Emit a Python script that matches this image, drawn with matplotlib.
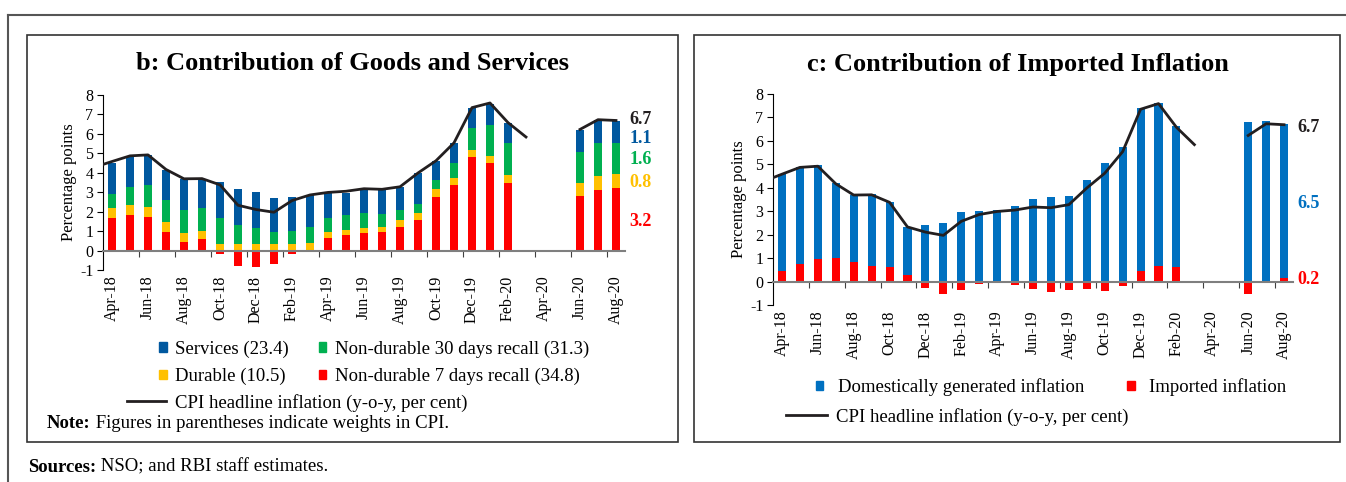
import numpy as np
import matplotlib
matplotlib.use("Agg")
import matplotlib.pyplot as plt
from matplotlib.patches import Rectangle, Patch
from matplotlib.lines import Line2D

plt.rcParams['font.family'] = ['Liberation Serif', 'DejaVu Serif']
plt.rcParams['axes.unicode_minus'] = False

nan = np.nan

# Month labels, Apr-18 .. Aug-20
months = ['Apr-18', 'May-18', 'Jun-18', 'Jul-18', 'Aug-18', 'Sep-18', 'Oct-18', 'Nov-18',
          'Dec-18', 'Jan-19', 'Feb-19', 'Mar-19', 'Apr-19', 'May-19', 'Jun-19', 'Jul-19',
          'Aug-19', 'Sep-19', 'Oct-19', 'Nov-19', 'Dec-19', 'Jan-20', 'Feb-20', 'Mar-20',
          'Apr-20', 'May-20', 'Jun-20', 'Jul-20', 'Aug-20']

# CPI headline inflation, Mar-18 .. Aug-20 (first point sits just left of the axis)
cpi = [4.28, 4.58, 4.87, 4.92, 4.17, 3.69, 3.70, 3.38, 2.33, 2.11, 1.97, 2.57, 2.86, 2.99,
       3.05, 3.18, 3.15, 3.28, 3.99, 4.62, 5.54, 7.35, 7.59, 6.58, 5.84, nan, nan, 6.23,
       6.73, 6.69]

# Panel b: contributions (percentage points)
nd7 = [1.70, 1.85, 1.75, 0.95, 0.45, 0.60, -0.20, -0.80, -0.85, -0.70, -0.20, 0.05, 0.65,
       0.80, 0.91, 0.96, 1.22, 1.58, 2.76, 3.37, 4.81, 4.50, 3.48, nan, nan, nan, 2.81,
       3.12, 3.20]
durable = [0.50, 0.50, 0.50, 0.50, 0.45, 0.40, 0.35, 0.35, 0.35, 0.35, 0.35, 0.35, 0.30,
           0.26, 0.25, 0.26, 0.36, 0.35, 0.41, 0.36, 0.36, 0.36, 0.41, nan, nan, nan, 0.67,
           0.72, 0.75]
nd30 = [0.70, 0.90, 1.10, 1.15, 1.20, 1.20, 1.30, 0.95, 0.80, 0.60, 0.65, 0.80, 0.75, 0.77,
        0.79, 0.66, 0.51, 0.47, 0.46, 0.77, 1.13, 1.60, 1.64, nan, nan, nan, 1.59, 1.69,
        1.60]
services = [1.60, 1.60, 1.55, 1.55, 1.60, 1.50, 1.90, 1.87, 1.85, 1.73, 1.75, 1.65, 1.30,
            1.15, 1.17, 1.24, 1.16, 1.57, 0.97, 1.03, 1.03, 1.07, 1.03, nan, nan, nan, 1.13,
            1.18, 1.12]
b_labels = ['6.7', '1.1', '1.6', '0.8', '3.2']
b_label_y = [6.75, 5.77, 4.66, 3.49, 1.49]

# Panel c: contributions (percentage points)
imported = [0.43, 0.74, 0.97, 1.00, 0.85, 0.68, 0.60, 0.26, -0.27, -0.53, -0.38, -0.10,
            -0.02, -0.13, -0.33, -0.44, -0.36, -0.31, -0.41, -0.17, 0.43, 0.68, 0.60, nan,
            nan, nan, -0.54, -0.06, 0.17]
domestic = [4.14, 4.13, 4.00, 3.19, 2.84, 3.04, 2.79, 2.07, 2.41, 2.51, 2.97, 3.01, 3.05,
            3.22, 3.54, 3.61, 3.65, 4.35, 5.06, 5.74, 6.97, 6.95, 6.03, nan, nan, nan, 6.80,
            6.85, 6.56]
c_labels = ['6.7', '6.5', '0.2']
c_label_y = [6.59, 3.35, 0.07]

C_SERV = '#00589F'
C_DOM = '#0070C0'
C_ND30 = '#00B050'
C_DUR = '#FFC000'
C_RED = '#FF0000'
C_LINE = '#231F20'

FS_LEG = 13.5

W, H = 1346, 482
fig = plt.figure(figsize=(W / 100, H / 100), dpi=100)


def fx(px):
    return px / W


def fy(py):
    return 1 - py / H


def setup_axis(ax):
    n = len(months)
    ax.set_xlim(-0.5, n - 0.5)
    ax.set_ylim(-1, 8)
    ax.set_yticks(range(-1, 9))
    ax.tick_params(axis='y', direction='out', length=4, width=0.8, labelsize=11.5, pad=3)
    for s in ['top', 'right']:
        ax.spines[s].set_visible(False)
    ax.spines['left'].set_linewidth(0.8)
    ax.spines['bottom'].set_position(('data', 0))
    ax.spines['bottom'].set_color('#7F7F7F')
    ax.spines['bottom'].set_linewidth(1.5)
    ax.set_xticks(np.arange(1.5, n - 1, 2))
    ax.set_xticklabels([])
    ax.tick_params(axis='x', direction='out', length=4, width=0.8, color='#404040')
    sec = ax.secondary_xaxis(0.0)
    sec.set_xticks(np.arange(0, n, 2))
    sec.set_xticklabels(months[::2], rotation=90, fontsize=11.5)
    sec.tick_params(length=0, pad=4)
    sec.spines['bottom'].set_visible(False)
    ax.set_ylabel('Percentage points', fontsize=12, labelpad=2)


x = np.arange(len(months))
xl = np.arange(-1, len(months))
bw = 0.45

# ---------------- panel b ----------------
axb = fig.add_axes([fx(103), fy(270), fx(625 - 103), (270 - 95) / H])
red = np.array(nd7)
dur = np.array(durable)
n30 = np.array(nd30)
srv = np.array(services)
base = np.where(red > 0, red, 0)
axb.bar(x, red, bw, color=C_RED, zorder=2)
axb.bar(x, dur, bw, bottom=base, color=C_DUR, zorder=2)
axb.bar(x, n30, bw, bottom=base + dur, color=C_ND30, zorder=2)
axb.bar(x, srv, bw, bottom=base + dur + n30, color=C_SERV, zorder=2)
axb.plot(xl, cpi, color=C_LINE, lw=2, zorder=3)
setup_axis(axb)
for txt, yy, col in zip(b_labels, b_label_y, [C_LINE, C_SERV, C_ND30, C_DUR, C_RED]):
    axb.text(28.75, yy, txt, color=col, fontsize=13, fontweight='bold',
             ha='left', va='center', clip_on=False)

fig.text(fx(352), fy(64), 'b: Contribution of Goods and Services', ha='center',
         va='center', fontsize=19, fontweight='bold')

hb = [Patch(color=C_SERV), Patch(color=C_DUR), Patch(color=C_ND30), Patch(color=C_RED)]
lb = ['Services (23.4)', 'Durable (10.5)', 'Non-durable 30 days recall (31.3)',
      'Non-durable 7 days recall (34.8)']
leg1 = axb.legend(hb, lb, ncol=2, loc='center left', bbox_to_anchor=(fx(159), fy(363)),
                  bbox_transform=fig.transFigure, frameon=False, fontsize=FS_LEG,
                  handlelength=0.4, handleheight=0.4, handletextpad=0.45,
                  columnspacing=1.6, labelspacing=0.55, borderpad=0, borderaxespad=0)
axb.add_artist(leg1)
axb.legend([Line2D([], [], color=C_LINE, lw=2)], ['CPI headline inflation (y-o-y, per cent)'],
           loc='center left', bbox_to_anchor=(fx(127), fy(403)),
           bbox_transform=fig.transFigure, frameon=False, fontsize=FS_LEG,
           handlelength=2.1, handletextpad=0.45, borderpad=0, borderaxespad=0)

t = fig.text(fx(47), fy(424), 'Note:', fontsize=FS_LEG, fontweight='bold', va='center')
plt.annotate(' Figures in parentheses indicate weights in CPI.', xy=(1, 0.5),
             xycoords=t, va='center', fontsize=FS_LEG)

# ---------------- panel c ----------------
axc = fig.add_axes([fx(773), fy(305), fx(1293 - 773), (305 - 94) / H])
imp = np.array(imported)
dom = np.array(domestic)
axc.bar(x, imp, bw, color=C_RED, zorder=2)
axc.bar(x, dom, bw, bottom=np.where(imp > 0, imp, 0), color=C_DOM, zorder=2)
axc.plot(xl, cpi, color=C_LINE, lw=2, zorder=3)
setup_axis(axc)
for txt, yy, col in zip(c_labels, c_label_y, [C_LINE, C_DOM, C_RED]):
    axc.text(28.75, yy, txt, color=col, fontsize=13, fontweight='bold',
             ha='left', va='center', clip_on=False)

fig.text(fx(1018), fy(64), 'c: Contribution of Imported Inflation', ha='center',
         va='center', fontsize=19, fontweight='bold')

leg2 = axc.legend([Patch(color=C_DOM), Patch(color=C_RED)],
                  ['Domestically generated inflation', 'Imported inflation'], ncol=2,
                  loc='center left', bbox_to_anchor=(fx(816), fy(387)),
                  bbox_transform=fig.transFigure, frameon=False, fontsize=FS_LEG,
                  handlelength=0.4, handleheight=0.4, handletextpad=0.75,
                  columnspacing=2.3, borderpad=0, borderaxespad=0)
axc.add_artist(leg2)
axc.legend([Line2D([], [], color=C_LINE, lw=2)], ['CPI headline inflation (y-o-y, per cent)'],
           loc='center left', bbox_to_anchor=(fx(786), fy(417)),
           bbox_transform=fig.transFigure, frameon=False, fontsize=FS_LEG,
           handlelength=2.2, handletextpad=0.45, borderpad=0, borderaxespad=0)

# ---------------- frames ----------------
for (x0, y0, x1, y1) in [(27, 35, 678, 442), (694, 35, 1340, 442)]:
    fig.patches.append(Rectangle((fx(x0), fy(y1)), fx(x1 - x0), (y1 - y0) / H,
                                 transform=fig.transFigure, fill=False,
                                 edgecolor='#333333', lw=1.2))
fig.add_artist(Line2D([fx(8), 1], [fy(15), fy(15)], transform=fig.transFigure,
                      color='#555555', lw=1.5))
fig.add_artist(Line2D([fx(8), fx(8)], [fy(15), 0], transform=fig.transFigure,
                      color='#555555', lw=1.5))

s = fig.text(fx(28), fy(467), 'Sources:', fontsize=FS_LEG, fontweight='bold', va='center')
plt.annotate(' NSO; and RBI staff estimates.', xy=(1, 0.5), xycoords=s, va='center',
             fontsize=FS_LEG)

fig.savefig('out.png', dpi=100)
